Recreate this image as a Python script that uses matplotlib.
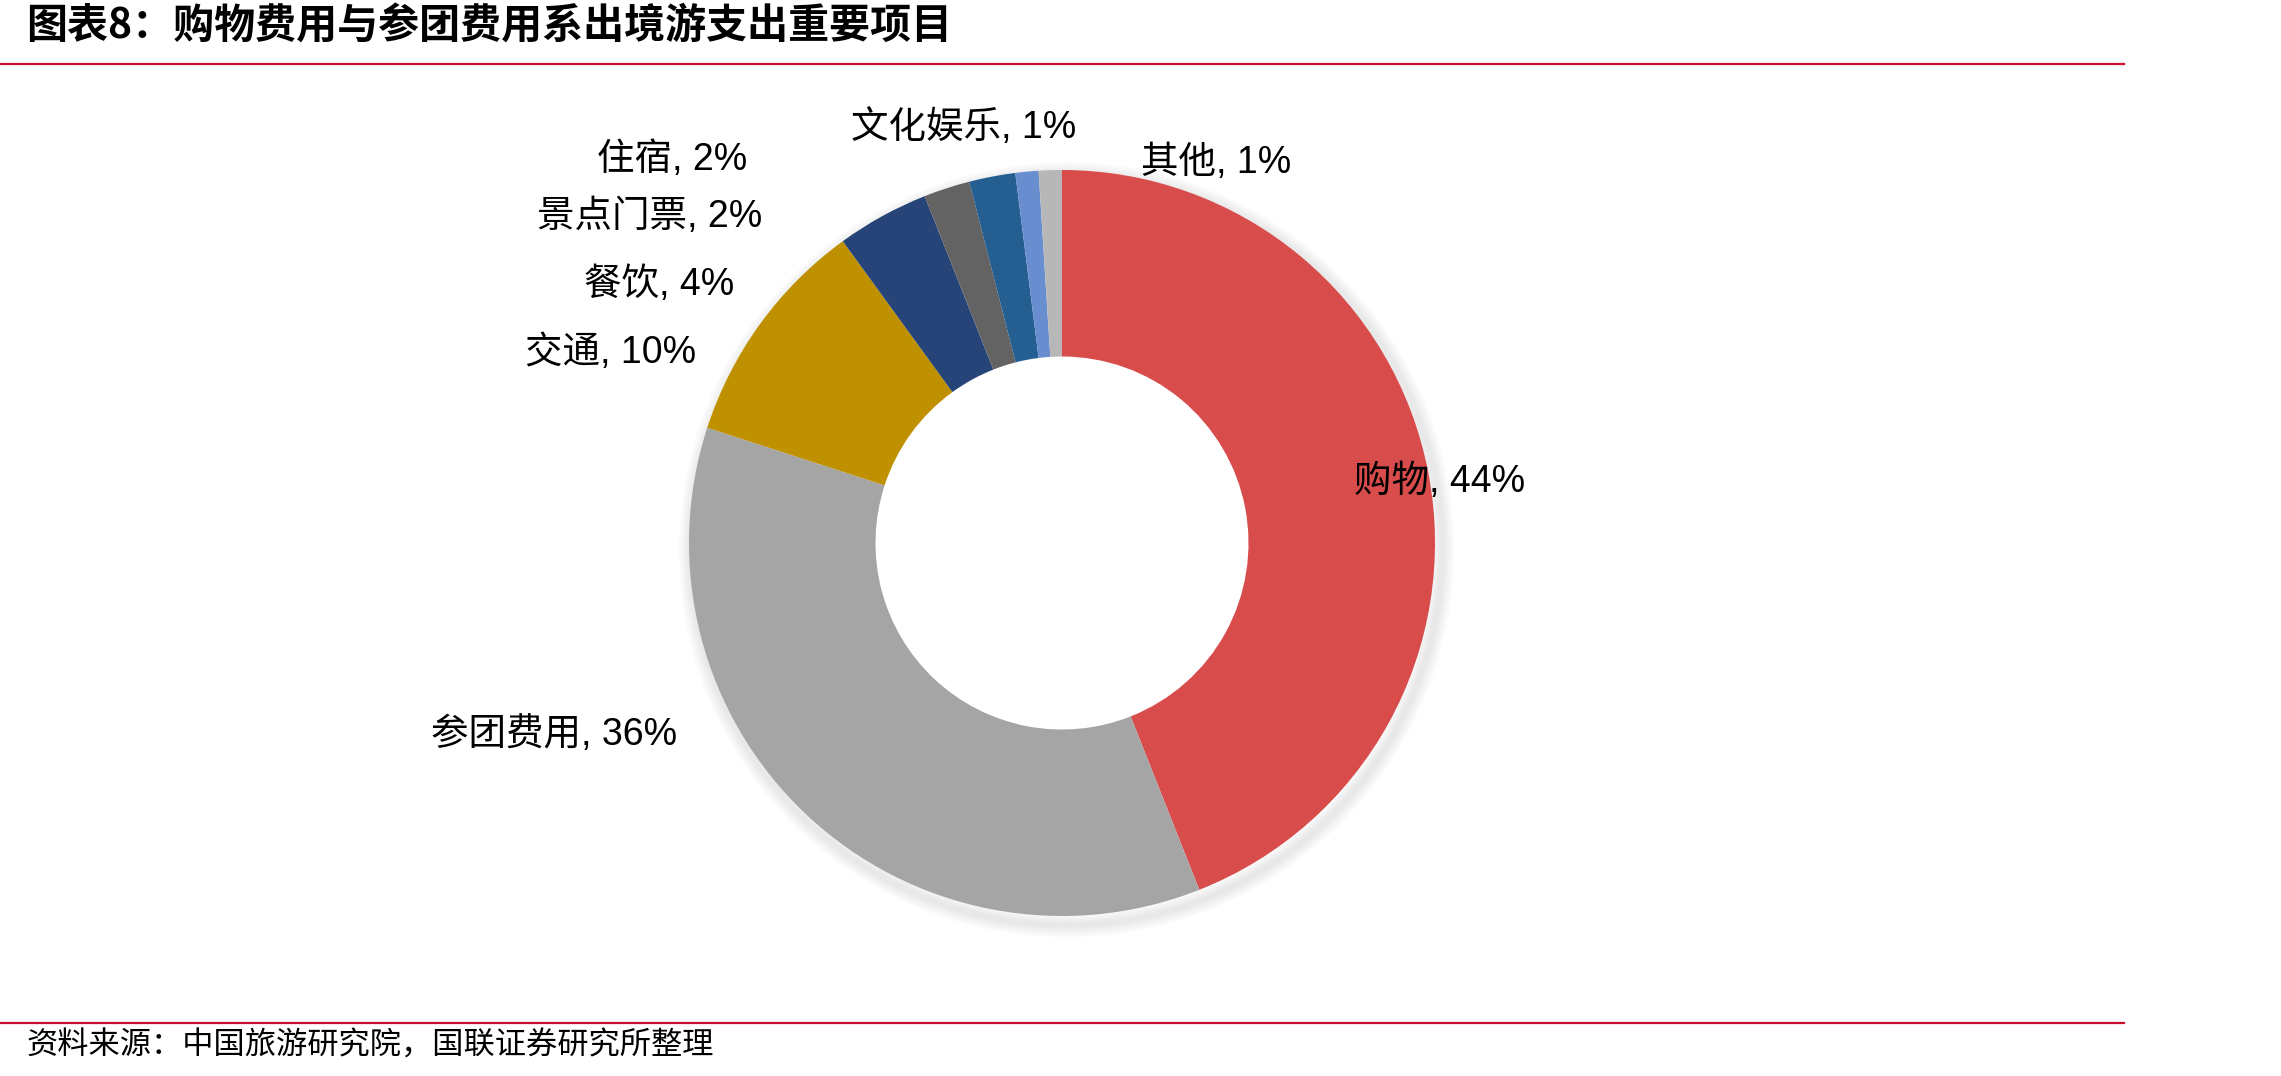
import matplotlib
matplotlib.use("Agg")
import matplotlib.pyplot as plt
from matplotlib.patches import Wedge
from matplotlib.lines import Line2D

plt.rcParams['font.family'] = ['Liberation Sans', 'Noto Sans CJK SC', 'DejaVu Sans']

# ---- data ----
categories = ['购物', '参团费用', '交通', '餐饮', '景点门票', '住宿', '文化娱乐', '其他']
values = [44, 36, 10, 4, 2, 2, 1, 1]
colors = ['#D94C4C', '#A5A5A5', '#BF9000', '#264478', '#636363', '#255E91', '#698ED0', '#B7B7B7']
title = '图表8：购物费用与参团费用系出境游支出重要项目'
source = '资料来源：中国旅游研究院，国联证券研究所整理'

W, H = 2281, 1076
fig = plt.figure(figsize=(W / 100, H / 100), dpi=100)

# pie geometry (pixels)
cx, cy, R = 1062, 543, 373
span = 1.5
side = 2 * span * R
ax = fig.add_axes([(cx - side / 2) / W, ((H - cy) - side / 2) / H, side / W, side / H])

# soft shadow (bottom-right)
for i in range(10):
    r = 1.0 + 0.004 * (i + 1)
    ax.add_patch(Wedge((0.012, -0.018), r, 0, 360, width=0.03,
                       facecolor='#000000', alpha=0.01, edgecolor='none'))

wedges, _ = ax.pie(values, colors=colors, startangle=90, counterclock=False,
                   radius=1.0, wedgeprops=dict(width=0.5, edgecolor='none'))

ax.set_xlim(-span, span)
ax.set_ylim(-span, span)
ax.set_aspect('equal')
ax.axis('off')

# label positions (pixel centers in the figure)
label_px = [(1440, 482), (554, 735), (611, 353), (659, 285), (650, 217),
            (672, 160), (964, 128), (1216, 163)]
for cat, v, (px, py) in zip(categories, values, label_px):
    ax.text((px - cx) / R, (cy - py) / R, f'{cat}, {v}%', ha='center', va='center',
            fontsize=27, color='black')

# title and rules
fig.text(26 / W, 1 - 27 / H, title, ha='left', va='center', fontsize=29.5,
         fontweight='bold', family=['Noto Sans CJK SC', 'DejaVu Sans'])
fig.add_artist(Line2D([0, 2124 / W], [1 - 64 / H, 1 - 64 / H], color='#C8102E', lw=1.6))
fig.add_artist(Line2D([0, 2124 / W], [1 - 1023 / H, 1 - 1023 / H], color='#C8102E', lw=1.6))
fig.text(26 / W, 1 - 1046 / H, source, ha='left', va='center', fontsize=22.5,
         family=['Noto Sans CJK SC', 'DejaVu Sans'])

fig.savefig('out.png', dpi=100, facecolor='white')
